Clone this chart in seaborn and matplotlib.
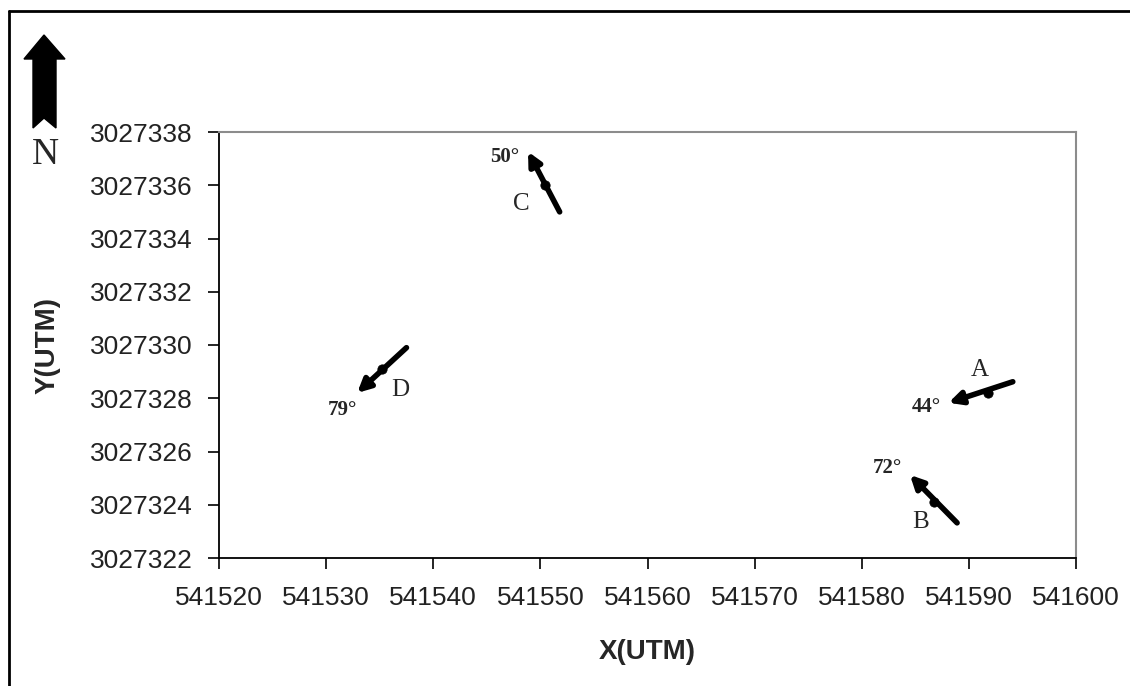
import numpy as np
import pandas as pd
import matplotlib
matplotlib.use("Agg")
import matplotlib.pyplot as plt
from matplotlib.lines import Line2D
from matplotlib.patches import Polygon
import seaborn as sns

# point positions (UTM) and the arrow ends
points = ["A", "B", "C", "D"]
x_utm = [541591.8, 541586.7, 541550.4, 541535.2]
y_utm = [3027328.2, 3027324.1, 3027336.0, 3027329.1]
tail_x = [541594.1, 541588.9, 541551.8, 541537.5]
tail_y = [3027328.62, 3027323.32, 3027335.0, 3027329.9]
head_x = [541588.1, 541584.5, 541548.85, 541532.9]
head_y = [3027327.83, 3027325.12, 3027337.26, 3027328.2]
angles = ["44°", "72°", "50°", "79°"]

x_ticks = list(range(541520, 541601, 10))
y_ticks = list(range(3027322, 3027339, 2))

df = pd.DataFrame({"point": points, "x": x_utm, "y": y_utm})

sns.set_style("ticks")
plt.rcParams['font.family'] = ['Liberation Sans', 'DejaVu Sans']

fig = plt.figure(figsize=(11.3, 6.86), dpi=100)
ax = fig.add_axes([219/1130, 1-558/686, (1076-219)/1130, (558-132)/686])

# arrows
for tx, ty, hx, hy in zip(tail_x, tail_y, head_x, head_y):
    ax.annotate("", xy=(hx, hy), xytext=(tx, ty),
                arrowprops=dict(arrowstyle="-|>,head_length=0.7,head_width=0.35",
                                lw=4, color="black", shrinkA=0, shrinkB=0,
                                mutation_scale=11))

sns.scatterplot(data=df, x="x", y="y", color="black", s=45, edgecolor="black",
                zorder=5, ax=ax, legend=False)

# point names
name_off = [(-8, 23), (-13, -20), (-23, -19), (18, -21)]
for p, x, y, off in zip(points, x_utm, y_utm, name_off):
    ax.annotate(p, xy=(x, y), xytext=off, textcoords="offset pixels",
                ha="center", va="center", fontsize=18, family="Liberation Serif")

# direction angles
ang_off = [(-22, -4), (-23, 7), (-23, -5), (-15, -17)]
for a, hx, hy, off in zip(angles, head_x, head_y, ang_off):
    ax.annotate(a, xy=(hx, hy), xytext=off, textcoords="offset pixels",
                ha="center", va="center", fontsize=15, fontweight="bold",
                family="Liberation Serif")

ax.set_xlim(541520, 541600)
ax.set_ylim(3027322, 3027338)
ax.set_xticks(x_ticks)
ax.set_yticks(y_ticks)
ax.ticklabel_format(useOffset=False, style="plain")
ax.tick_params(axis="both", labelsize=19, length=8, width=1.2, color="black",
               labelcolor="#222222")
ax.tick_params(axis="x", pad=12)
ax.tick_params(axis="y", pad=11)

for s in ["left", "bottom"]:
    ax.spines[s].set_color("black")
    ax.spines[s].set_linewidth(1.3)
for s in ["top", "right"]:
    ax.spines[s].set_color("#8c8c8c")
    ax.spines[s].set_linewidth(1.5)

ax.set_xlabel("X(UTM)", fontsize=20, fontweight="bold")
ax.set_ylabel("Y(UTM)", fontsize=20, fontweight="bold")
ax.xaxis.set_label_coords(0.5, -0.19)
ax.yaxis.set_label_coords(-0.185, 0.5)

# north arrow
arrow_px = [(44, 35), (65, 59), (56, 59), (56, 128), (44, 118), (33, 128), (33, 59), (24, 59)]
fig.add_artist(Polygon([(px/1130, 1-py/686) for px, py in arrow_px], closed=True,
                       transform=fig.transFigure, facecolor="black", edgecolor="black"))
fig.text(45/1130, 1-155/686, "N", ha="center", va="center", fontsize=27,
         family="Liberation Serif")

# frame of the figure
fig.add_artist(Line2D([9/1130, 1], [1-11/686, 1-11/686], transform=fig.transFigure,
                      color="black", lw=2))
fig.add_artist(Line2D([9/1130, 9/1130], [0, 1-11/686], transform=fig.transFigure,
                      color="black", lw=2))

fig.savefig("out.png", dpi=100)
